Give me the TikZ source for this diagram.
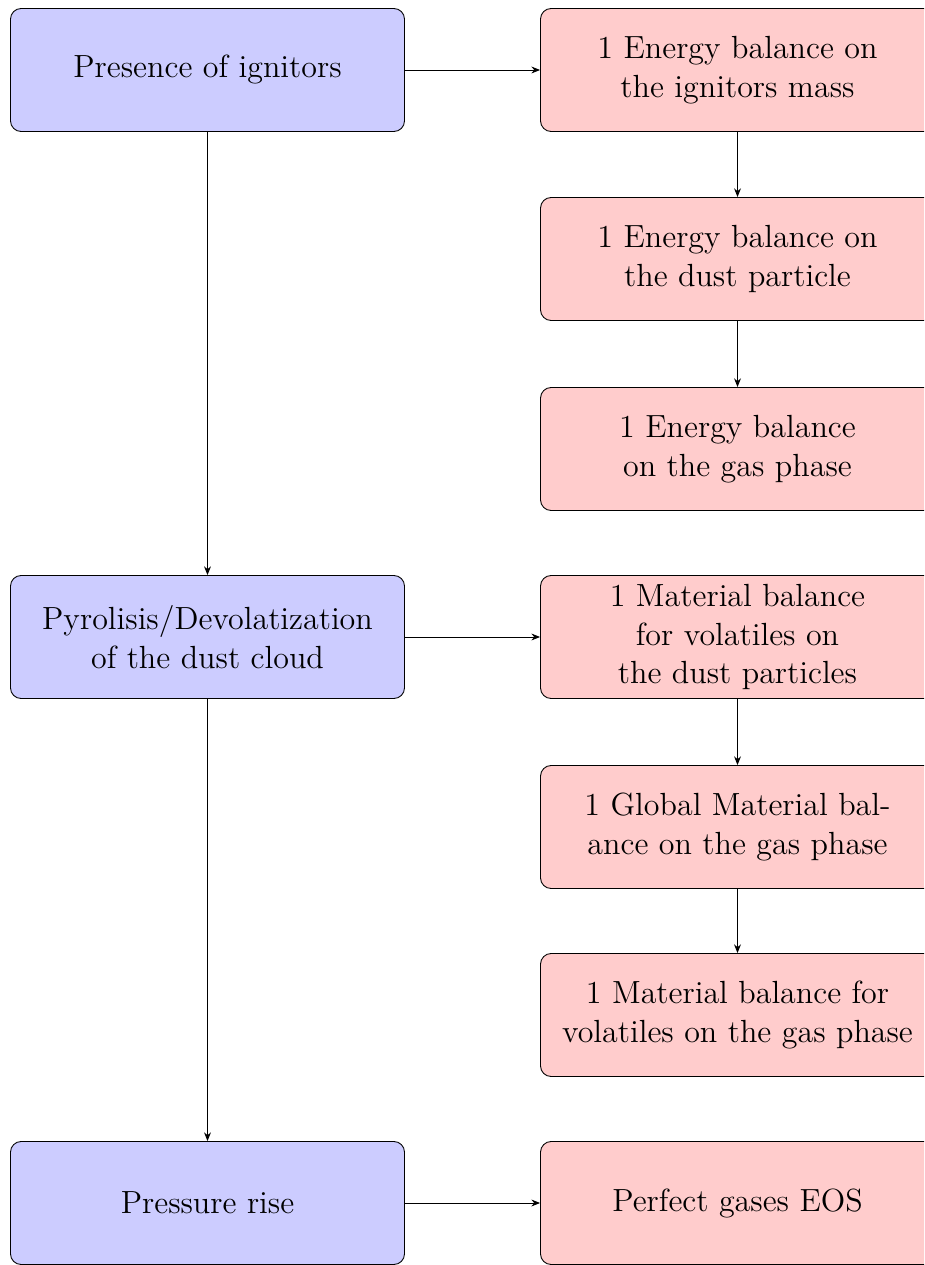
\documentclass[tikz,border=0pt]{standalone}
\usetikzlibrary{arrows.meta}
\begin{document}
\begin{tikzpicture}[x=0.4495pt,y=-0.4495pt,
  box/.style={draw=black, rounded corners=4.8pt, minimum width=177.1pt, minimum height=55.3pt, align=center, font=\fontsize{14.4}{17.35}\selectfont, inner sep=2pt},
  lbox/.style={box, fill=blue!20},
  rbox/.style={box, fill=red!20},
  conn/.style={-{Stealth[length=3.9pt,width=3.1pt]}, black}]
\useasboundingbox (0,0) rectangle (924,1265);
\clip (0,0) rectangle (924,1265);
\node[lbox] (l1) at (207.5,70) {Presence of ignitors};
\node[lbox] (l2) at (207.5,637) {Pyrolisis/Devolatization\\of the dust cloud};
\node[lbox] (l3) at (207.5,1203) {Pressure rise};
\node[rbox] (r1) at (737.5,70) {1 Energy balance on\\the ignitors mass};
\node[rbox] (r2) at (737.5,259) {1 Energy balance on\\the dust particle};
\node[rbox] (r3) at (737.5,449) {1 Energy balance\\on the gas phase};
\node[rbox] (r4) at (737.5,637) {1 Material balance\\for volatiles on\\the dust particles};
\node[rbox] (r5) at (737.5,827) {1 Global Material bal-\\ance on the gas phase};
\node[rbox] (r6) at (737.5,1015) {1 Material balance for\\volatiles on the gas phase};
\node[rbox] (r7) at (737.5,1203) {Perfect gases EOS};
\draw[conn] (l1) -- (r1);
\draw[conn] (l2) -- (r4);
\draw[conn] (l3) -- (r7);
\draw[conn] (r1) -- (r2);
\draw[conn] (r2) -- (r3);
\draw[conn] (r4) -- (r5);
\draw[conn] (r5) -- (r6);
\draw[conn] (l1) -- (l2);
\draw[conn] (l2) -- (l3);
\end{tikzpicture}
\end{document}
